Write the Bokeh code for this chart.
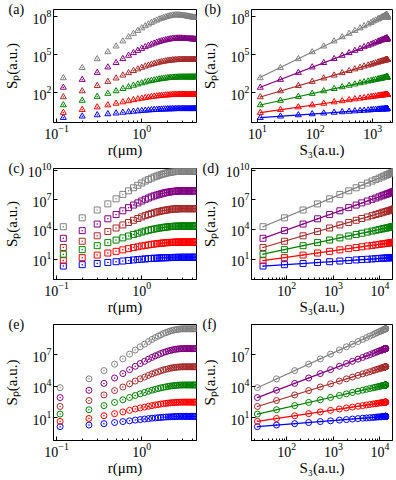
import numpy as np
from bokeh.plotting import figure
from bokeh.layouts import column, row
from bokeh.models import FixedTicker, Range1d, Title
from bokeh.embed import file_html
from bokeh.resources import INLINE

# ---------------- data (log10 of S_p) ----------------
r_ac = [0.12, 0.2, 0.3, 0.4, 0.5, 0.6, 0.7, 0.8, 0.9, 1.0, 1.1, 1.2, 1.3, 1.4, 1.5,
        1.6, 1.7, 1.8, 1.9, 2.0, 2.1, 2.2, 2.3, 2.4, 2.5, 2.6, 2.7, 2.8, 2.9, 3.0,
        3.1, 3.2, 3.3, 3.4, 3.5, 3.6, 3.7, 3.8, 3.9, 4.0, 4.1, 4.2, 4.3]
r_e = [0.11, 0.24, 0.36, 0.48, 0.60, 0.72, 0.84, 0.96, 1.08, 1.20, 1.32, 1.44,
       1.56, 1.68, 1.80, 1.92, 2.04, 2.16, 2.28, 2.40, 2.52, 2.64, 2.76, 2.88,
       3.00, 3.12, 3.24, 3.36, 3.48, 3.60, 3.72, 3.84, 3.96, 4.08, 4.20, 4.32]

a_p1 = [0.05, 0.16, 0.26, 0.34, 0.40, 0.46, 0.50, 0.54, 0.57, 0.60, 0.62, 0.64, 0.66, 0.68, 0.69,
        0.70, 0.71, 0.72, 0.72, 0.73, 0.73, 0.74, 0.74, 0.74, 0.75, 0.75, 0.75, 0.75, 0.75, 0.75,
        0.75, 0.75, 0.75, 0.75, 0.75, 0.75, 0.75, 0.75, 0.75, 0.75, 0.75, 0.75, 0.75]
a_p2 = [0.45, 0.68, 0.88, 1.04, 1.17, 1.28, 1.37, 1.45, 1.52, 1.57, 1.62, 1.66, 1.70, 1.73, 1.75,
        1.77, 1.79, 1.81, 1.82, 1.83, 1.84, 1.85, 1.86, 1.87, 1.87, 1.87, 1.88, 1.88, 1.88, 1.88,
        1.88, 1.88, 1.88, 1.88, 1.88, 1.88, 1.88, 1.88, 1.88, 1.88, 1.88, 1.88, 1.88]
a_p3 = [1.05, 1.40, 1.71, 1.95, 2.15, 2.33, 2.47, 2.59, 2.69, 2.78, 2.85, 2.92, 2.97, 3.01, 3.05,
        3.09, 3.11, 3.14, 3.16, 3.18, 3.20, 3.21, 3.22, 3.23, 3.23, 3.24, 3.24, 3.25, 3.25, 3.25,
        3.25, 3.25, 3.25, 3.25, 3.25, 3.25, 3.25, 3.25, 3.25, 3.25, 3.25, 3.25, 3.25]
a_p4 = [1.68, 2.15, 2.57, 2.89, 3.16, 3.39, 3.58, 3.75, 3.88, 4.00, 4.10, 4.18, 4.25, 4.31, 4.36,
        4.41, 4.45, 4.48, 4.51, 4.54, 4.56, 4.57, 4.59, 4.60, 4.61, 4.61, 4.62, 4.62, 4.63, 4.63,
        4.63, 4.63, 4.63, 4.63, 4.63, 4.63, 4.63, 4.63, 4.63, 4.63, 4.63, 4.63, 4.63]
a_p5 = [2.43, 3.05, 3.60, 4.03, 4.38, 4.69, 4.95, 5.16, 5.34, 5.49, 5.63, 5.74, 5.83, 5.91, 5.98,
        6.04, 6.09, 6.14, 6.17, 6.21, 6.23, 6.26, 6.28, 6.29, 6.30, 6.31, 6.31, 6.31, 6.31, 6.30,
        6.30, 6.29, 6.29, 6.28, 6.27, 6.27, 6.26, 6.26, 6.25, 6.25, 6.24, 6.23, 6.23]
a_p6 = [3.18, 3.98, 4.68, 5.23, 5.68, 6.08, 6.41, 6.68, 6.91, 7.11, 7.28, 7.42, 7.54, 7.65, 7.73,
        7.81, 7.87, 7.93, 7.98, 8.02, 8.06, 8.09, 8.11, 8.13, 8.14, 8.15, 8.14, 8.13, 8.12, 8.11,
        8.10, 8.08, 8.07, 8.05, 8.04, 8.02, 8.01, 7.99, 7.98, 7.97, 7.95, 7.94, 7.93]

c_p1 = [0.29, 0.43, 0.55, 0.65, 0.73, 0.80, 0.86, 0.91, 0.95, 0.98, 1.01, 1.04, 1.06, 1.08, 1.09,
        1.10, 1.12, 1.13, 1.13, 1.14, 1.15, 1.15, 1.16, 1.16, 1.16, 1.17, 1.17, 1.17, 1.17, 1.17,
        1.17, 1.17, 1.17, 1.17, 1.17, 1.17, 1.17, 1.17, 1.17, 1.17, 1.17, 1.17, 1.17]
c_p2 = [0.84, 1.14, 1.40, 1.61, 1.78, 1.93, 2.05, 2.16, 2.24, 2.32, 2.38, 2.43, 2.48, 2.52, 2.55,
        2.58, 2.60, 2.63, 2.64, 2.66, 2.67, 2.68, 2.69, 2.70, 2.71, 2.71, 2.71, 2.72, 2.72, 2.72,
        2.72, 2.72, 2.72, 2.72, 2.72, 2.72, 2.72, 2.72, 2.72, 2.72, 2.72, 2.72, 2.72]
c_p3 = [1.49, 1.95, 2.35, 2.66, 2.92, 3.14, 3.33, 3.49, 3.61, 3.73, 3.83, 3.91, 3.98, 4.04, 4.08,
        4.13, 4.16, 4.20, 4.23, 4.25, 4.27, 4.29, 4.30, 4.31, 4.32, 4.33, 4.33, 4.33, 4.34, 4.34,
        4.34, 4.34, 4.34, 4.34, 4.34, 4.34, 4.34, 4.34, 4.34, 4.34, 4.34, 4.34, 4.34]
c_p4 = [2.17, 2.80, 3.35, 3.78, 4.14, 4.45, 4.70, 4.92, 5.10, 5.26, 5.39, 5.50, 5.60, 5.68, 5.75,
        5.81, 5.86, 5.90, 5.94, 5.97, 6.00, 6.03, 6.05, 6.06, 6.07, 6.08, 6.09, 6.09, 6.10, 6.10,
        6.10, 6.10, 6.10, 6.10, 6.10, 6.10, 6.10, 6.10, 6.10, 6.10, 6.10, 6.10, 6.10]
c_p5 = [3.10, 3.87, 4.54, 5.07, 5.50, 5.88, 6.20, 6.46, 6.68, 6.87, 7.04, 7.17, 7.29, 7.39, 7.47,
        7.54, 7.60, 7.66, 7.71, 7.75, 7.78, 7.81, 7.83, 7.85, 7.87, 7.88, 7.89, 7.89, 7.90, 7.90,
        7.90, 7.90, 7.90, 7.90, 7.90, 7.90, 7.90, 7.90, 7.90, 7.90, 7.90, 7.90, 7.90]
c_p6 = [4.27, 5.17, 5.96, 6.58, 7.09, 7.54, 7.90, 8.21, 8.46, 8.69, 8.89, 9.04, 9.18, 9.30, 9.39,
        9.48, 9.55, 9.62, 9.67, 9.72, 9.76, 9.79, 9.82, 9.84, 9.86, 9.87, 9.88, 9.89, 9.89, 9.90,
        9.90, 9.90, 9.90, 9.90, 9.90, 9.90, 9.90, 9.90, 9.90, 9.90, 9.90, 9.90, 9.90]

e_p1 = [0.18, 0.33, 0.46, 0.57, 0.66, 0.73, 0.80, 0.85, 0.90, 0.94, 0.98, 1.00, 1.03, 1.05, 1.07,
        1.09, 1.10, 1.11, 1.12, 1.13, 1.14, 1.14, 1.15, 1.15, 1.15, 1.15, 1.15, 1.15, 1.15, 1.15,
        1.15, 1.15, 1.15, 1.15, 1.15, 1.15]
e_p2 = [0.68, 0.95, 1.21, 1.41, 1.57, 1.72, 1.85, 1.95, 2.03, 2.11, 2.17, 2.23, 2.27, 2.32, 2.35,
        2.38, 2.41, 2.43, 2.45, 2.46, 2.47, 2.48, 2.49, 2.50, 2.50, 2.50, 2.50, 2.50, 2.50, 2.50,
        2.50, 2.50, 2.50, 2.50, 2.50, 2.50]
e_p3 = [1.37, 1.78, 2.17, 2.47, 2.72, 2.94, 3.13, 3.28, 3.41, 3.53, 3.63, 3.71, 3.78, 3.85, 3.90,
        3.94, 3.98, 4.02, 4.04, 4.07, 4.08, 4.10, 4.11, 4.11, 4.12, 4.12, 4.12, 4.12, 4.12, 4.12,
        4.12, 4.12, 4.12, 4.12, 4.12, 4.12]
e_p4 = [2.09, 2.65, 3.18, 3.59, 3.93, 4.23, 4.49, 4.70, 4.87, 5.03, 5.17, 5.28, 5.37, 5.47, 5.54,
        5.60, 5.65, 5.70, 5.74, 5.77, 5.79, 5.81, 5.82, 5.83, 5.84, 5.84, 5.84, 5.84, 5.84, 5.84,
        5.84, 5.84, 5.84, 5.84, 5.84, 5.84]
e_p5 = [2.93, 3.62, 4.27, 4.78, 5.20, 5.57, 5.89, 6.15, 6.36, 6.56, 6.73, 6.87, 6.98, 7.10, 7.19,
        7.26, 7.33, 7.38, 7.43, 7.47, 7.50, 7.52, 7.54, 7.55, 7.56, 7.56, 7.56, 7.56, 7.56, 7.56,
        7.56, 7.56, 7.56, 7.56, 7.56, 7.56]
e_p6 = [3.87, 4.70, 5.48, 6.09, 6.59, 7.04, 7.43, 7.73, 7.98, 8.23, 8.43, 8.60, 8.74, 8.87, 8.99,
        9.07, 9.15, 9.22, 9.27, 9.32, 9.35, 9.38, 9.40, 9.42, 9.43, 9.43, 9.43, 9.43, 9.43, 9.43,
        9.43, 9.43, 9.43, 9.43, 9.43, 9.43]

colors = ["#0000ff", "#ff0000", "#008000", "#a52a2a", "#800080", "#808080"]

x_major_r = [0.1, 1.0]
x_minor_r = [0.2, 0.3, 0.4, 0.5, 0.6, 0.7, 0.8, 0.9, 2, 3, 4]
x_major_b = [10, 100, 1000]
x_minor_b = [20, 30, 40, 50, 60, 70, 80, 90, 200, 300, 400, 500, 600, 700, 800, 900, 2000]
x_major_df = [100, 1000, 10000]
x_minor_df = [20, 30, 40, 50, 60, 70, 80, 90, 200, 300, 400, 500, 600, 700, 800, 900,
              2000, 3000, 4000, 5000, 6000, 7000, 8000, 9000]
y_major_ab = [1e2, 1e5, 1e8]
y_major_cd = [1e1, 1e4, 1e7, 1e10]
y_major_ef = [1e1, 1e4, 1e7]

FONT = "Liberation Serif"
YTITLE = "Sₚ(a.u.)"
TAG_STANDOFF = -15  # pulls the panel tag down beside the frame's top edge


def make_fig(width, height, bl, br, bt, bb, xr, yr):
    p = figure(width=width, height=height, x_axis_type="log", y_axis_type="log",
               x_range=Range1d(*xr), y_range=Range1d(*yr), title=None,
               output_backend="svg", toolbar_location=None,
               min_border_left=bl, min_border_right=br, min_border_top=bt, min_border_bottom=bb)
    p.grid.visible = False
    p.outline_line_color = "black"
    p.outline_line_width = 1
    p.background_fill_color = "white"
    p.border_fill_color = "white"
    return p


def style_axes(p, xmaj, xmin, ymaj, xtitle, ystand):
    p.xaxis.ticker = FixedTicker(ticks=xmaj, minor_ticks=xmin)
    p.yaxis.ticker = FixedTicker(ticks=ymaj, minor_ticks=[])
    for ax in (p.xaxis[0], p.yaxis[0]):
        ax.major_tick_in = 4
        ax.major_tick_out = 0
        ax.minor_tick_in = 2
        ax.minor_tick_out = 0
        ax.axis_line_color = "black"
        ax.major_tick_line_color = "black"
        ax.minor_tick_line_color = "black"
        ax.major_label_text_font = FONT
        ax.major_label_text_font_size = "14px"
        ax.major_label_text_color = "black"
        ax.major_label_standoff = 2
        ax.axis_label_text_font = FONT
        ax.axis_label_text_font_style = "normal"
        ax.axis_label_text_font_size = "15px"
        ax.axis_label_text_color = "black"
    p.xaxis.axis_label = xtitle
    p.xaxis.axis_label_standoff = 0
    p.yaxis.axis_label = YTITLE
    p.yaxis.axis_label_standoff = ystand


def add_tag(p, tag, dx):
    t = Title(text=tag, align="left", offset=dx, standoff=TAG_STANDOFF,
              vertical_align="bottom", text_font=FONT, text_font_size="14px",
              text_font_style="normal", text_color="black")
    p.add_layout(t, "above")


def left_panel(r, series, marker, height, bt, bb, yr, ymaj, tag, dx, ystand):
    p = make_fig(198, height, 52, 2, bt, bb, (0.092, 4.4), yr)
    style_axes(p, x_major_r, x_minor_r, ymaj, "r(μm)", ystand)
    for s, c in zip(series, colors):
        p.scatter(r, [10 ** v for v in s], marker=marker, size=6, fill_color=None,
                  line_color=c, line_width=1)
    add_tag(p, tag, dx)
    return p


def right_panel(series, marker, height, bt, bb, xr, yr, xmaj, xmin, ymaj, tag, dx, ystand):
    p = make_fig(198, height, 50, 4, bt, bb, xr, yr)
    style_axes(p, xmaj, xmin, ymaj, "S₃(a.u.)", ystand)
    s3 = np.array([10 ** v for v in series[2]])
    for s, c in zip(series, colors):
        sp = np.array([10 ** v for v in s])
        k, b = np.polyfit(np.log10(s3), np.log10(sp), 1)
        xs = np.array([s3.min(), s3.max()])
        p.line(xs, 10 ** (b + k * np.log10(xs)), line_color=c, line_width=1.2)
        p.scatter(s3, sp, marker=marker, size=6, fill_color=None, line_color=c, line_width=1)
    add_tag(p, tag, dx)
    return p


A = [a_p1, a_p2, a_p3, a_p4, a_p5, a_p6]
C = [c_p1, c_p2, c_p3, c_p4, c_p5, c_p6]
E = [e_p1, e_p2, e_p3, e_p4, e_p5, e_p6]

yr_ab = (10 ** -0.33, 10 ** 8.58)
yr_cd = (10 ** -1.07, 10 ** 10.16)
yr_ef = (10 ** -1.13, 10 ** 9.84)
xr_b = (7.9, 2200)
xr_df = (17.5, 18600)

# rows: frame 9..128 | 168..284 | 324..441
pa = left_panel(r_ac, A, "triangle_dot", 160, 9, 32, yr_ab, y_major_ab, "(a)", -45, 10)
pb = right_panel(A, "triangle_dot", 160, 9, 32, xr_b, yr_ab, x_major_b, x_minor_b, y_major_ab,
                 "(b)", -47, 10)
pc = left_panel(r_ac, C, "square_dot", 157, 8, 33, yr_cd, y_major_cd, "(c)", -45, 5)
pd = right_panel(C, "square_dot", 157, 8, 33, xr_df, yr_cd, x_major_df, x_minor_df, y_major_cd,
                 "(d)", -49, 5)
pe = left_panel(r_e, E, "circle_dot", 161, 7, 37, yr_ef, y_major_ef, "(e)", -45, 10)
pf = right_panel(E, "circle_dot", 161, 7, 37, xr_df, yr_ef, x_major_df, x_minor_df, y_major_ef,
                 "(f)", -49, 10)

layout = column(row(pa, pb), row(pc, pd), row(pe, pf))
open("out.html", "w").write(file_html(layout, INLINE))
